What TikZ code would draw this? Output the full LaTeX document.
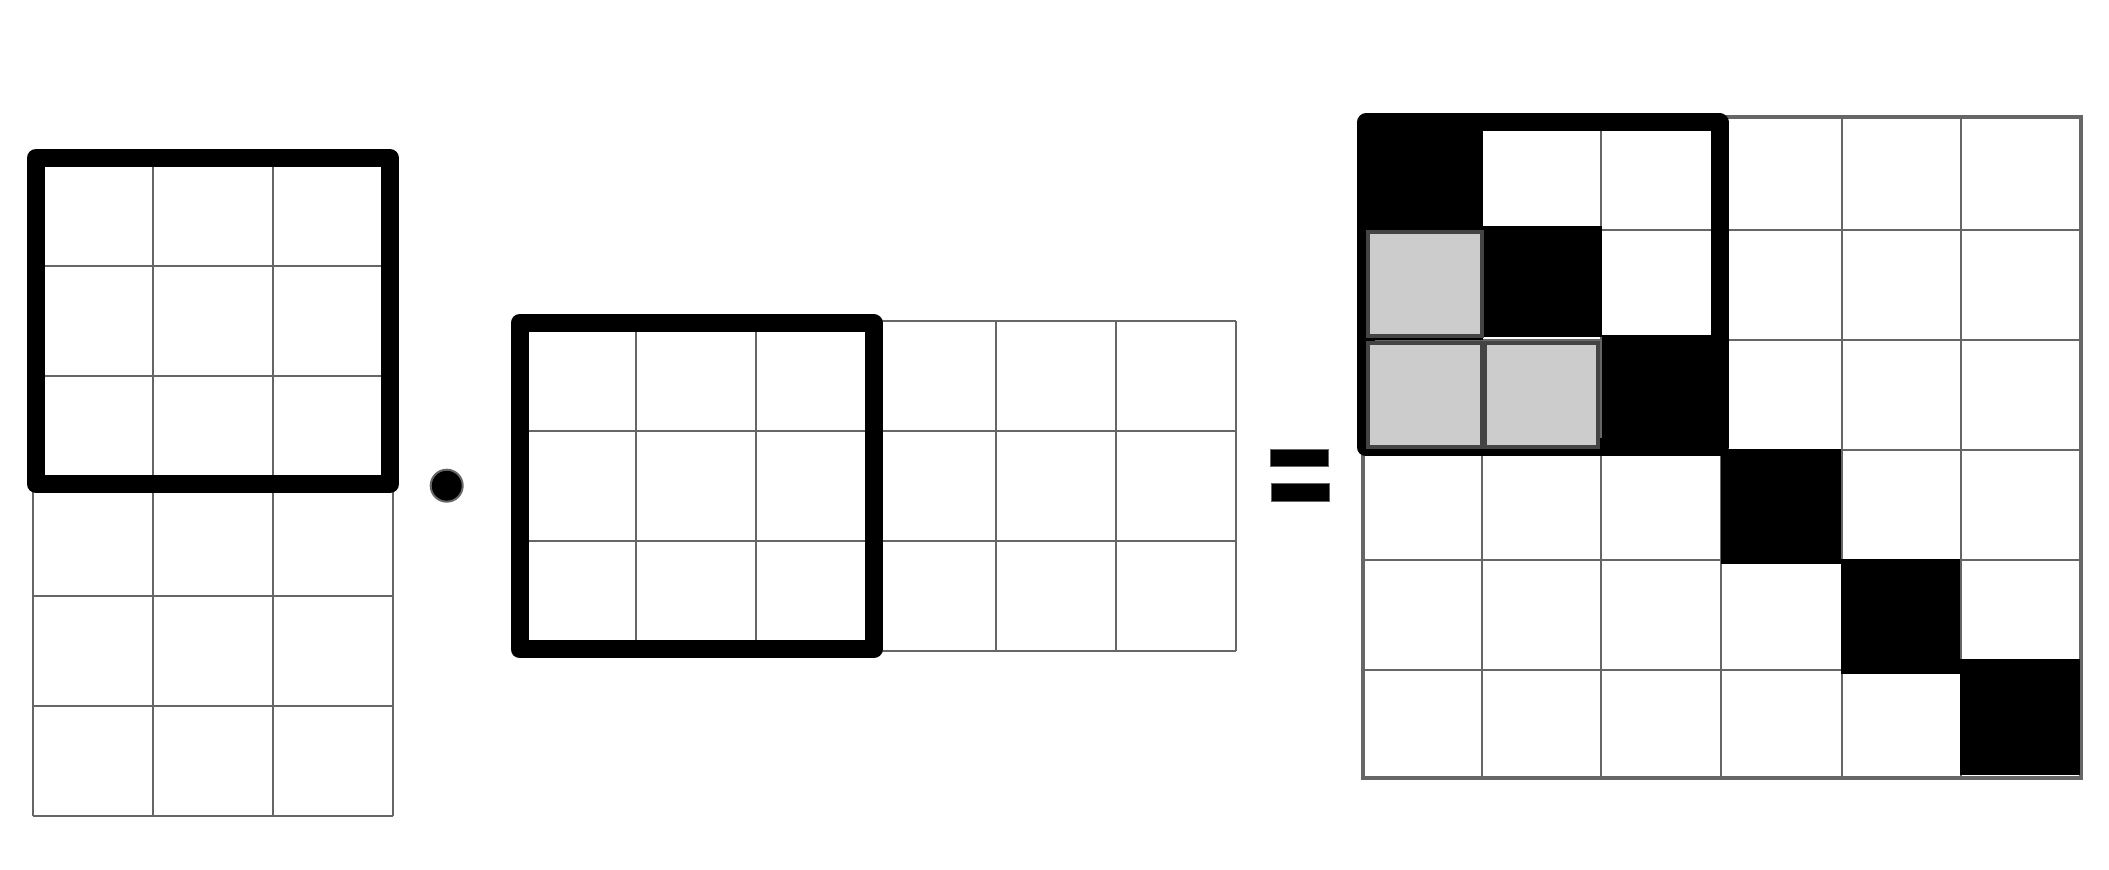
\documentclass[tikz,border=0pt]{standalone}
\definecolor{gridgray}{HTML}{666666}
\definecolor{cellgray}{HTML}{CCCCCC}
\definecolor{edgegray}{HTML}{444444}
\tikzset{
  gridline/.style={draw=gridgray, line width=1pt},
  outerline/.style={draw=gridgray, line width=1.6pt},
  thickbox/.style={draw=black, line width=9pt, line join=round},
  blackcell/.style={fill=black},
  graycell/.style={fill=cellgray, draw=edgegray, line width=2pt},
  eqbar/.style={fill=black, draw=gridgray, line width=0.5pt}
}
\begin{document}
\begin{tikzpicture}[x=0.5pt,y=-0.5pt]
\useasboundingbox (0,0) rectangle (2109,870);
\fill[white] (0,0) rectangle (2109,870);

% left matrix 6x3
\foreach \x in {33,153,273,393} \draw[gridline] (\x,156) -- (\x,816);
\foreach \y in {156,266,376,486,596,706,816} \draw[gridline] (33,\y) -- (393,\y);
\draw[thickbox] (36,158) rectangle (390,484);

% dot
\fill[black, draw=gridgray, line width=1pt] (446.7,485.7) circle[radius=16];

% middle matrix 3x6
\foreach \x in {516,636,756,876,996,1116,1236} \draw[gridline] (\x,321) -- (\x,651);
\foreach \y in {321,431,541,651} \draw[gridline] (516,\y) -- (1236,\y);
\draw[thickbox] (519.5,323) rectangle (873.5,649.5);

% equals sign
\draw[eqbar] (1270,450) rectangle (1328,467);
\draw[eqbar] (1271,484) rectangle (1329,502);

% right matrix 6x6
\foreach \x in {1482,1601,1721,1842,1961} \draw[gridline] (\x,117) -- (\x,778);
\foreach \y in {230,340,450,560,670} \draw[gridline] (1363,\y) -- (2081,\y);
\draw[outerline] (1363,117) rectangle (2081,778);

% diagonal black cells
\fill[blackcell] (1363,117) rectangle (1483,226);
\fill[blackcell] (1363,220) rectangle (1483,340);
\fill[blackcell] (1483,226) rectangle (1602,337);
\fill[blackcell] (1602,335) rectangle (1728,456);
\fill[blackcell] (1721,449) rectangle (1841,564);
\fill[blackcell] (1841,559) rectangle (1960,674);
\fill[blackcell] (1960,659) rectangle (2080,775);

% thick box
\draw[thickbox] (1366,122.5) rectangle (1719.5,447.5);

% gray cells
\draw[graycell] (1368,232) rectangle (1482,336);
\draw[graycell] (1368,343) rectangle (1482,447);
\draw[graycell] (1485,343) rectangle (1598,447);
\end{tikzpicture}
\end{document}
